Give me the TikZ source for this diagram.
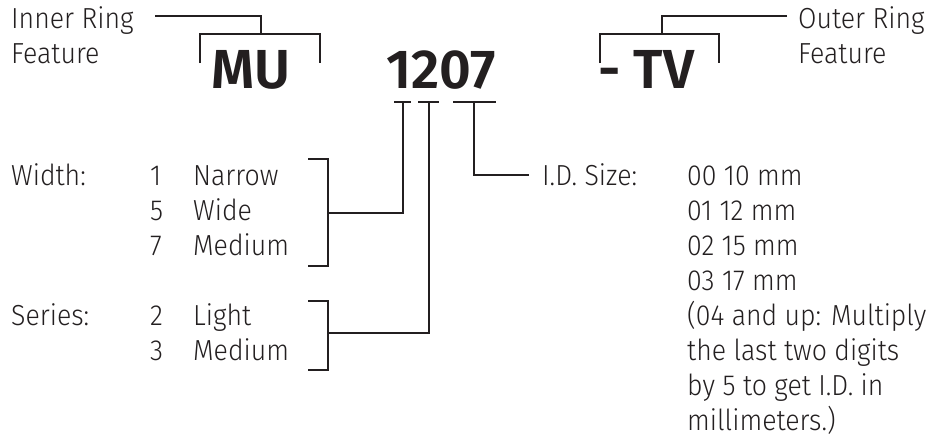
\documentclass[tikz,border=0pt]{standalone}
\usepackage{fontspec}
\setmainfont{Fira Sans Light}[FakeStretch=0.92]
\newfontfamily\codefont{Fira Sans SemiBold}
\definecolor{ink}{HTML}{231F20}
\begin{document}
\begin{tikzpicture}[x=1pt,y=-1pt,
  lbl/.style={anchor=base west,inner sep=0pt,text=ink,font=\fontsize{29}{35}\selectfont},
  code/.style={anchor=base west,inner sep=0pt,text=ink,font=\fontsize{55}{60}\codefont},
  wire/.style={draw=ink,line width=1.9pt,line cap=butt,line join=miter}]
\useasboundingbox (0,0) rectangle (929,439);
% top labels
\node[lbl] (inner1) at (11,28) {Inner Ring};
\node[lbl] (inner2) at (11,63) {Feature};
\node[lbl] (outer1) at (798,28) {Outer Ring};
\node[lbl] (outer2) at (798,63) {Feature};
% code parts
\node[code] (mu) at (211,88) {MU};
\node[code] (num) at (386,88) {1207};
\node[code] (tv) at (598,88) {- TV};
% left lists
\node[lbl] (width) at (11,185) {Width:};
\node[lbl] (w1n) at (150,185) {1};
\node[lbl] (w1) at (193,185) {Narrow};
\node[lbl] (w5n) at (150,220) {5};
\node[lbl] (w5) at (193,220) {Wide};
\node[lbl] (w7n) at (150,255) {7};
\node[lbl] (w7) at (193,255) {Medium};
\node[lbl] (series) at (11,325) {Series:};
\node[lbl] (s2n) at (150,325) {2};
\node[lbl] (s2) at (193,325) {Light};
\node[lbl] (s3n) at (150,360) {3};
\node[lbl] (s3) at (193,360) {Medium};
% right list
\node[lbl] (idsize) at (542,185) {I.D. Size:};
\node[lbl] (id0) at (687,185) {00 10 mm};
\node[lbl] (id1) at (687,220) {01 12 mm};
\node[lbl] (id2) at (687,255) {02 15 mm};
\node[lbl] (id3) at (687,290) {03 17 mm};
\node[lbl] (idn1) at (687,325) {(04 and up: Multiply};
\node[lbl] (idn2) at (687,360) {the last two digits};
\node[lbl] (idn3) at (687,395) {by 5 to get I.D. in};
\node[lbl] (idn4) at (687,430) {millimeters.)};
% connector points
\coordinate (inA) at (155,16);
\coordinate (inB) at (261,16);
\coordinate (inC) at (261,34);
\coordinate (muL) at (200,63);
\coordinate (muLt) at (200,34);
\coordinate (muRt) at (320,34);
\coordinate (muR) at (320,63);
\coordinate (outA) at (787,16);
\coordinate (outB) at (662,16);
\coordinate (outC) at (662,34);
\coordinate (tvL) at (600,63);
\coordinate (tvLt) at (600,34);
\coordinate (tvRt) at (719,34);
\coordinate (tvR) at (719,63);
\coordinate (t1a) at (394,102); \coordinate (t1b) at (411,102); \coordinate (t1c) at (403,102);
\coordinate (t2a) at (418,102); \coordinate (t2b) at (439,102); \coordinate (t2c) at (429,102);
\coordinate (t3a) at (453,102); \coordinate (t3b) at (496,102); \coordinate (t3c) at (474,102);
\coordinate (wbTop) at (308,159); \coordinate (wbTopR) at (328,159);
\coordinate (wbBot) at (308,266); \coordinate (wbBotR) at (328,266);
\coordinate (wbMid) at (328,213);
\coordinate (sbTop) at (308,301); \coordinate (sbTopR) at (328,301);
\coordinate (sbBot) at (308,370); \coordinate (sbBotR) at (328,370);
\coordinate (sbMid) at (328,333);
\coordinate (idEnd) at (529,175);
% connectors
\draw[wire] (inA) -- (inB) -- (inC);
\draw[wire] (muL) -- (muLt) -- (muRt) -- (muR);
\draw[wire] (outA) -- (outB) -- (outC);
\draw[wire] (tvL) -- (tvLt) -- (tvRt) -- (tvR);
\draw[wire] (t1a) -- (t1b);
\draw[wire] (t2a) -- (t2b);
\draw[wire] (t3a) -- (t3b);
\draw[wire] (wbTop) -- (wbTopR) -- (wbBotR) -- (wbBot);
\draw[wire] (sbTop) -- (sbTopR) -- (sbBotR) -- (sbBot);
\draw[wire] (t1c) |- (wbMid);
\draw[wire] (t2c) |- (sbMid);
\draw[wire] (t3c) |- (idEnd);
\end{tikzpicture}
\end{document}
